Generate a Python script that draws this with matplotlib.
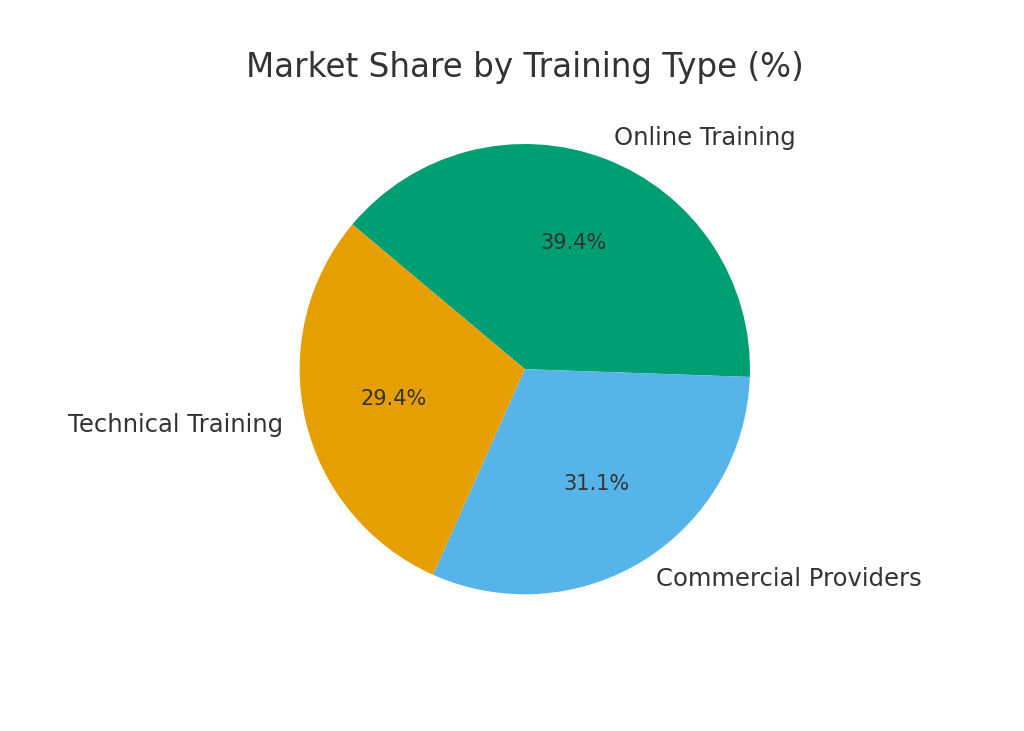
import matplotlib
matplotlib.use("Agg")
import matplotlib.pyplot as plt

categories = ["Online Training", "Commercial Providers", "Technical Training"]
values = [39.4, 31.1, 29.4]
colors = ["#009E73", "#56B4E9", "#E69F00"]

text_color = "#333333"
fig, ax = plt.subplots(figsize=(10.24, 7.31), dpi=100)
wedges, texts, autotexts = ax.pie(
    values, labels=categories, colors=colors, autopct="%1.1f%%",
    startangle=140, counterclock=False,
    textprops={"fontsize": 17.5, "color": text_color},
)
for t in autotexts:
    t.set_fontsize(15)
    t.set_color(text_color)
ax.set_title("Market Share by Training Type (%)", fontsize=23.5, color=text_color, pad=8)
fig.savefig("out.png", dpi=100)
